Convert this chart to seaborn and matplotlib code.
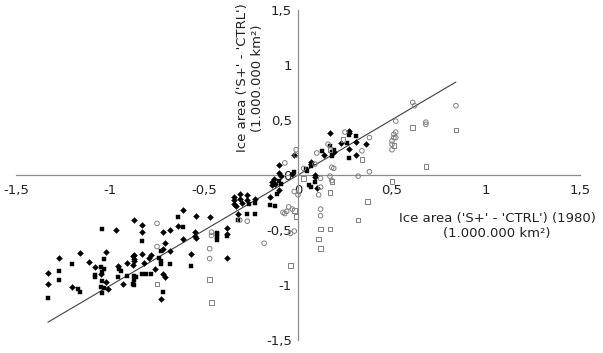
import numpy as np
import matplotlib
matplotlib.use('Agg')
import matplotlib.pyplot as plt
from matplotlib.ticker import FuncFormatter
import seaborn as sns

# Filled diamonds
dia_x = [-0.97, -1.27, -1.16, -1.11, -1.33, -1.33, -1.20, -1.02, -1.08, -1.05, -1.02, -1.01,
         -0.96, -0.91, -0.93, -0.88, -0.87, -0.61, -0.54, -0.47, -0.87, -0.83, -0.64, -0.83,
         -0.72, -0.68, -0.55, -0.55, -0.54, -0.38, -0.61, -0.71, -0.72, -0.68, -0.57, -0.87,
         -0.87, -0.83, -0.79, -0.78, -0.38, -0.82, -0.88, -0.76, -0.72, -0.71, -0.73,
         -0.10, -0.13, -0.14, -0.14, -0.12, -0.10, -0.09, -0.10, -0.15, -0.34, -0.34, -0.34,
         -0.33, -0.31, -0.31, -0.30, -0.27, -0.27, -0.23, -0.32, -0.38,
         0.17, 0.27, 0.27, 0.31, 0.23, 0.27, 0.31, -0.02, 0.14, 0.07, 0.07, -0.03, 0.09,
         0.09, 0.10, 0.36, 0.19]
dia_y = [-0.50, -0.75, -0.71, -0.79, -0.89, -0.99, -1.02, -0.70, -0.84, -0.90, -0.97, -1.04,
         -0.83, -0.80, -0.99, -0.74, -0.78, -0.32, -0.37, -0.38, -0.41, -0.45, -0.46, -0.52,
         -0.52, -0.50, -0.52, -0.55, -0.57, -0.48, -0.58, -0.62, -0.67, -0.69, -0.72, -0.73,
         -0.76, -0.72, -0.75, -0.73, -0.75, -0.80, -0.82, -0.85, -0.90, -0.93, -1.13,
         0.09, -0.04, -0.06, -0.09, -0.08, 0.02, -0.01, -0.14, -0.20, -0.20, -0.23, -0.26,
         -0.28, -0.17, -0.22, -0.25, -0.18, -0.23, -0.22, -0.35, -0.54,
         0.38, 0.40, 0.38, 0.30, 0.29, 0.24, 0.18, 0.18, 0.18, 0.12, 0.10, 0.01, 0.00,
         -0.02, -0.12, 0.28, 0.21]

# Filled squares
sq_x = [-1.04, -1.20, -1.27, -1.27, -1.17, -1.16, -1.33, -1.03, -1.05, -1.03, -1.04, -1.08,
        -1.08, -1.04, -1.05, -1.03, -1.04, -0.95, -0.94, -0.96, -0.91, -0.87, -0.87,
        -0.64, -0.61, -0.43, -0.43, -0.43, -0.38, -0.83, -0.73, -0.74, -0.73, -0.73, -0.68,
        -0.57, -0.83, -0.81, -0.78, -0.87, -0.86, -0.88, -0.72,
        -0.10, -0.09, -0.11, -0.15, -0.12, -0.26, -0.23, -0.32, -0.27, -0.23, -0.43,
        0.27, 0.31, 0.26, 0.17, 0.19, 0.18, 0.13, 0.27, 0.18, 0.07, 0.04, 0.05, -0.02,
        0.06, 0.07, 0.09]
sq_y = [-0.49, -0.81, -0.87, -0.95, -1.04, -1.06, -1.12, -0.76, -0.84, -0.85, -0.88, -0.91,
        -0.93, -0.96, -1.02, -1.03, -1.07, -0.85, -0.87, -0.93, -0.92, -0.92, -1.00,
        -0.38, -0.47, -0.53, -0.56, -0.59, -0.55, -0.60, -0.69, -0.75, -0.78, -0.81, -0.81,
        -0.83, -0.90, -0.90, -0.90, -0.95, -0.93, -0.99, -1.06,
        -0.05, -0.08, -0.17, -0.27, -0.28, -0.26, -0.25, -0.41, -0.35, -0.35, -0.54,
        0.36, 0.35, 0.29, 0.26, 0.23, 0.21, 0.22, 0.15, 0.17, 0.08, 0.05, 0.04, 0.03,
        -0.09, -0.11, -0.06]

# Open circles
circ_x = [-0.75, -0.46, -0.75, -0.47, -0.47, -0.07, -0.08, -0.06, -0.03, -0.31, -0.46, -0.18,
          -0.02, -0.01, 0.10, -0.27, -0.05, -0.07,
          0.25, 0.38, 0.16, 0.34, -0.01, 0.09, 0.03, 0.18, 0.19, 0.38, 0.32, 0.12, 0.17,
          0.18, 0.12, 0.11, -0.02, 0.00, 0.12, 0.12, -0.04,
          0.61, 0.62, 0.84, 0.52, 0.68, 0.68, 0.52, 0.51, 0.51, 0.52, 0.50, 0.50, 0.50]
circ_y = [-0.44, -0.55, -0.65, -0.67, -0.76, 0.11, -0.34, -0.33, -0.31, -0.41, -0.52, -0.62,
          -0.51, 0.18, 0.20, -0.42, -0.29, -0.35,
          0.39, 0.34, 0.28, 0.22, 0.23, 0.10, 0.06, 0.07, 0.06, 0.03, -0.01, -0.03, -0.01,
          -0.05, -0.11, -0.18, -0.15, -0.18, -0.31, -0.37, -0.53,
          0.66, 0.63, 0.63, 0.49, 0.48, 0.46, 0.39, 0.37, 0.34, 0.34, 0.31, 0.28, 0.23]

# Open squares
osq_x = [-0.75, -0.47, -0.46, -0.01, 0.24, 0.17, 0.34, 0.03, 0.18, 0.17, 0.37, -0.02,
         0.32, 0.12, 0.17, 0.11, 0.12, -0.04, 0.61, 0.84, 0.51, 0.68, 0.50]
osq_y = [-0.99, -0.95, -1.16, -0.38, 0.32, 0.23, 0.14, -0.03, -0.06, -0.16, -0.24, -0.32,
         -0.41, -0.49, -0.49, -0.58, -0.67, -0.82, 0.43, 0.41, 0.27, 0.08, -0.06]

# linear fit shown on the chart
fit_slope = 1.006
fit_intercept = 0.0

tick_vals = [-1.5, -1, -0.5, 0, 0.5, 1, 1.5]
axis_label = "Ice area ('S+' - 'CTRL')"

sns.set_style('white')
plt.rcParams['font.family'] = ['DejaVu Sans']

fig = plt.figure(figsize=(6.03, 3.53), dpi=100)
ax = fig.add_axes([0.0265, 0.0368, 0.9354, 0.9349])

sns.scatterplot(x=dia_x, y=dia_y, marker='D', s=9, color='black', edgecolor='black',
                linewidth=0.3, ax=ax, zorder=3)
sns.scatterplot(x=sq_x, y=sq_y, marker='s', s=11, color='black', edgecolor='black',
                linewidth=0.3, ax=ax, zorder=3)
sns.scatterplot(x=circ_x, y=circ_y, marker='o', s=11, facecolor='none', edgecolor='#808080',
                linewidth=0.7, ax=ax, zorder=3)
sns.scatterplot(x=osq_x, y=osq_y, marker='s', s=11, facecolor='none', edgecolor='#808080',
                linewidth=0.7, ax=ax, zorder=3)

all_x = np.array(dia_x + sq_x + circ_x + osq_x)
line_x = np.array([all_x.min(), all_x.max()])
ax.plot(line_x, fit_slope * line_x + fit_intercept, color='#404040', lw=0.8, zorder=2)

ax.set_xlim(-1.5, 1.5)
ax.set_ylim(-1.5, 1.5)
ax.set_xticks(tick_vals)
ax.set_yticks(tick_vals)
fmt = FuncFormatter(lambda v, p: f'{v:g}'.replace('.', ','))
ax.xaxis.set_major_formatter(fmt)
ax.yaxis.set_major_formatter(fmt)

for side in ['left', 'bottom']:
    ax.spines[side].set_position(('data', 0))
    ax.spines[side].set_color('#8c8c8c')
    ax.spines[side].set_linewidth(0.9)
for side in ['right', 'top']:
    ax.spines[side].set_visible(False)

ax.tick_params(axis='x', direction='inout', length=5, width=0.8, color='#8c8c8c',
               labelsize=9.5, pad=4, labelcolor='#222222')
ax.tick_params(axis='y', direction='inout', length=5, width=0.8, color='#8c8c8c',
               labelsize=9.5, pad=2, labelcolor='#222222')
ax.set_facecolor('white')

fig.text(250 / 603, 1 - 78 / 353, axis_label + "\n(1.000.000 km²)", rotation=90,
         ha='center', va='center', multialignment='center', fontsize=9.5, color='#222222')
fig.text(497 / 603, 1 - 226 / 353, axis_label + " (1980)\n(1.000.000 km²)",
         ha='center', va='center', multialignment='center', fontsize=9.5, color='#222222')

fig.savefig('out.png', dpi=100, facecolor='white')
